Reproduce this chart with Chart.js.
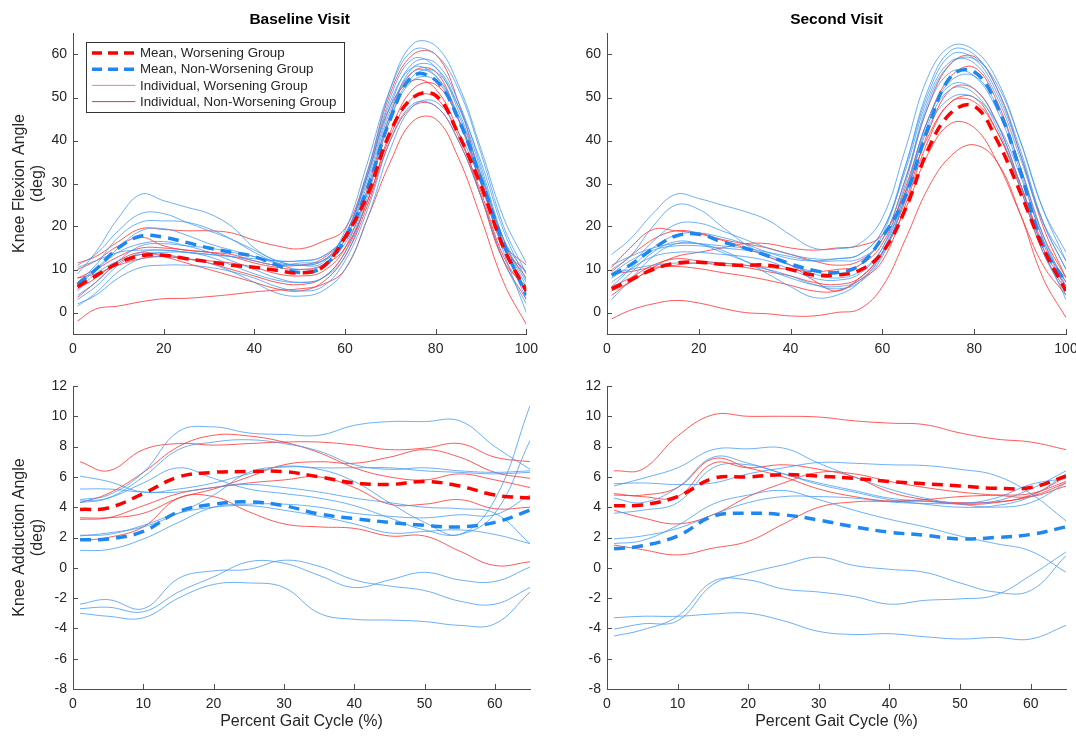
<!DOCTYPE html>
<html>
<head>
<meta charset="utf-8">
<script src="https://cdn.jsdelivr.net/npm/chart.js@4.4.1/dist/chart.umd.min.js"></script>
<style>
  body { margin: 0; background: #fff; width: 1076px; height: 737px; position: relative; overflow: hidden; }
  canvas { position: absolute; }
</style>
</head>
<body>
<canvas id="flexBase" width="545" height="364" style="left:0;top:0"></canvas>
<canvas id="flexSecond" width="540" height="364" style="left:555px;top:0"></canvas>
<canvas id="addBase" width="545" height="371" style="left:0;top:366px"></canvas>
<canvas id="addSecond" width="521" height="371" style="left:555px;top:366px"></canvas>
<script>
// x positions (percent gait cycle)
const flexX = [1, 5, 10, 15, 20, 25, 30, 35, 40, 45, 50, 55, 60, 65, 70, 75, 80, 85, 90, 95, 100];
const addX = [1, 5, 10, 15, 20, 25, 30, 35, 40, 45, 50, 55, 60, 65];

// tick labels
const flexXTicks = [0, 20, 40, 60, 80, 100];
const flexYTicks = [0, 10, 20, 30, 40, 50, 60];
const addXTicks = [0, 10, 20, 30, 40, 50, 60];
const addYTicks = [-8, -6, -4, -2, 0, 2, 4, 6, 8, 10, 12];

// legend
const legendLabels = ['Mean, Worsening Group', 'Mean, Non-Worsening Group', 'Individual, Worsening Group', 'Individual, Non-Worsening Group'];

// ---- knee flexion, baseline visit ----
const flexBaseMeanWorse = [6, 8.5, 11.5, 13.2, 13.3, 12.5, 11.8, 11, 10.5, 9.8, 9.2, 10.5, 17.5, 27.5, 42, 50, 50.5, 41.5, 29.5, 15, 5];
const flexBaseMeanNon = [6.5, 10, 15, 17.8, 17.5, 16.3, 15, 14, 13, 11, 9.3, 10.5, 17, 29, 45, 55, 54, 45, 31, 16, 4];
const flexBaseWorse = [
  [-2, 0.8, 1.5, 2.5, 3.2, 3.3, 3.7, 4.2, 4.8, 5.2, 5.5, 6.5, 10, 22, 35, 44.5, 45, 36, 22, 7, -2.8],
  [11.5, 13, 16.5, 19.5, 19.3, 19, 19, 18.5, 16.8, 15.5, 14.8, 16.5, 19.5, 33, 51, 60, 60, 49, 31, 15, 9.5],
  [10, 12, 15.5, 17.5, 15.5, 14.5, 14, 13, 11.5, 10.5, 10, 11, 15, 26, 42, 52, 53, 45, 31, 16, 8],
  [3.5, 7, 11.5, 13.5, 13.5, 12.5, 11.5, 10, 8.5, 7, 6.5, 8, 14, 26, 41, 50, 50, 41, 28, 13, 5],
  [8, 9, 11, 12.5, 13, 12.5, 12, 11.5, 10.5, 9, 8.5, 9.5, 15, 29, 46, 56, 56, 45, 30, 16, 11],
  [5.5, 8, 12, 14, 13, 11.5, 10, 8.5, 7, 5.5, 5, 7, 13, 25, 40, 48, 48, 40, 27, 12, 3],
  [8, 10, 13, 15, 15, 14.5, 14, 13.5, 12, 11, 11, 12.5, 18, 32, 48, 54, 52, 42, 27, 12, 6]
];
const flexBaseNon = [
  [9, 14, 22, 27.5, 26, 24.5, 23, 20, 15, 12, 11, 11.5, 19, 35, 52, 61, 60, 52, 37, 20, 9],
  [11, 13.5, 19, 23, 23, 21, 19, 17, 14.5, 12, 11, 12, 18, 33, 52, 62.5, 62, 53, 38, 22, 11.5],
  [7, 11, 17.5, 21, 21.3, 21, 19.5, 17, 14, 11.5, 10, 11, 17, 31, 48, 58, 58, 49, 34, 17, 6],
  [6, 10, 15, 19, 19.5, 18, 16, 14.5, 13, 11.5, 11, 12, 17, 30, 47, 56, 55, 46, 32, 17, 7],
  [4, 7, 12, 15.5, 16, 15.5, 15, 14, 13, 12, 12, 13, 18, 32, 49, 57, 55, 45, 30, 15, 5],
  [5, 9, 12, 13.5, 14, 14, 13.5, 13, 12, 11, 11.5, 12, 16, 28, 45, 54, 54, 45, 31, 16, 4],
  [2, 4, 8, 10.5, 11, 11, 10.5, 9.5, 8, 6, 5, 6, 12, 24, 40, 48.5, 48, 40, 27, 12, 2],
  [1.5, 4.5, 9.5, 12.5, 13, 12.5, 11.5, 9.5, 7, 4.5, 3.8, 5, 10, 22, 38, 48, 49, 42, 30, 14, 0],
  [7, 10, 14, 16, 16.5, 15.5, 14, 12, 10, 8, 7, 8, 14, 28, 46, 57, 57, 48, 33, 16, 3],
  [10.5, 12, 14, 14.5, 14.5, 14, 13.5, 13, 12.5, 12, 12, 13, 18, 32, 50, 59, 57, 47, 32, 17, 9],
  [3, 6, 11, 14, 14.5, 14, 13, 11, 9, 7.5, 7, 8, 13, 27, 45, 55, 56, 48, 35, 19, 7.5]
];

// ---- knee flexion, second visit ----
const flexSecondMeanWorse = [5.5, 7.5, 10, 11.5, 11.7, 11.2, 11, 11, 10, 8.7, 8.7, 9.8, 14, 24, 38, 46.5, 48, 40, 28, 15, 5];
const flexSecondMeanNon = [8.7, 11, 14.8, 17.8, 18.2, 16.5, 15, 13.2, 11.3, 9.8, 9.3, 11, 17.5, 27, 43, 55, 56, 48, 33, 15.5, 7];
const flexSecondWorse = [
  [-1.5, 0.5, 2, 2.8, 2.2, 1, 0, -0.3, -0.8, -0.8, 0, 0.8, 6, 17, 29, 36.5, 39, 35, 23, 8, -1.2],
  [4, 7, 10, 11, 11.5, 11, 10.5, 9.5, 8.5, 7, 6.5, 8, 14, 24, 37, 44, 43, 35, 23, 11, 4],
  [9.5, 13, 17, 19, 18.5, 17, 16, 15, 13.5, 12, 11, 12, 17, 31, 48, 58, 59.5, 52, 37, 20, 8],
  [5, 7, 10.5, 13, 14, 15, 16, 16, 15, 14.5, 15, 15.5, 18, 28, 41, 49, 50, 42, 30, 16, 7],
  [10.5, 15, 19.3, 19, 18.3, 16.8, 15, 13, 11, 7.5, 5, 8, 14, 26, 42, 52, 52, 44, 30, 15, 6],
  [9, 9.5, 10.5, 10.7, 10.2, 9.3, 8.5, 7.5, 6.3, 5, 5, 7.5, 12, 25, 40, 49, 49, 42, 29, 14, 5],
  [6, 8, 11, 12.5, 12, 11.5, 11, 10.5, 10, 9.5, 10, 11, 16, 29, 45, 55, 57, 49, 34, 18, 8]
];
const flexSecondNon = [
  [13.5, 17, 23, 27.5, 26.5, 25, 23.5, 21.5, 18, 15, 14.8, 16, 22, 38, 55, 62, 61, 54, 40, 24, 14],
  [10, 13, 20, 25, 24, 20, 16, 13, 11, 9.5, 9, 11, 18, 34, 52, 61, 60, 52, 38, 21, 10],
  [8, 11, 16.5, 20.5, 20.8, 19, 17, 15, 13.5, 12.5, 12.5, 13.5, 19, 34, 51, 60, 59, 51, 37, 21, 10],
  [6, 10, 15, 18, 18.5, 17.5, 16, 14, 12.5, 12, 12.5, 13.5, 19, 33, 50, 58.5, 58, 50, 36, 21, 12],
  [9, 12, 14.5, 15.5, 15.5, 15, 14.5, 13.5, 11, 9, 8, 9.5, 15, 28, 45, 54, 55, 48, 34, 18, 6],
  [3, 7.5, 13, 16, 16, 14.5, 12, 9, 6, 3.5, 4, 7, 14, 28, 45, 53, 52, 44, 30, 15, 3],
  [9, 10, 11, 11.5, 11.5, 11.5, 11, 10, 8.5, 6.5, 5.5, 7, 13, 27, 44, 52, 51, 43, 29, 14, 4],
  [5, 9, 14, 16.5, 16, 14, 12, 10, 8, 6.5, 6, 7.5, 13.5, 27, 43, 50, 50, 44, 32, 17, 5],
  [11, 13, 15, 16, 16, 15.5, 15, 14, 13, 12, 12, 12.5, 17, 31, 49, 58, 59, 53, 40, 24, 12],
  [7, 10, 13, 14, 14, 13.5, 13, 12, 10, 8, 7.5, 9, 15, 30, 48, 56, 55, 47, 33, 17, 7]
];

// ---- knee adduction, baseline visit ----
const addBaseMeanWorse = [3.85, 3.95, 4.9, 6.0, 6.3, 6.35, 6.35, 6.0, 5.6, 5.5, 5.7, 5.4, 4.8, 4.6];
const addBaseMeanNon = [1.85, 1.9, 2.4, 3.7, 4.2, 4.35, 4.1, 3.55, 3.25, 3.0, 2.8, 2.7, 3.0, 3.8];
const addBaseWorse = [
  [7, 6.4, 7.8, 8.2, 8.1, 8.2, 8.3, 8.3, 8.1, 7.8, 7.9, 8.2, 7.3, 7.0],
  [4.3, 4.9, 6.3, 8.0, 8.75, 8.7, 8.3, 7.6, 6.6, 6.0, 5.8, 6.2, 5.8, 5.3],
  [3.3, 3.3, 3.6, 4.6, 5.2, 6.0, 6.8, 7.0, 6.9, 7.3, 7.8, 7.3, 6.3, 5.9],
  [3.2, 3.3, 4.1, 4.9, 5.3, 5.6, 5.8, 6.0, 5.3, 4.2, 4.2, 4.5, 3.9, 4.0],
  [1.8, 2.0, 2.7, 4.6, 4.7, 3.7, 2.9, 2.7, 2.6, 2.1, 2.1, 1.1, 0.15, 0.4]
];
const addBaseNon = [
  [4.5, 4.8, 6.3, 9.0, 9.3, 8.9, 8.8, 8.75, 9.4, 9.65, 9.65, 9.7, 8.0, 6.5],
  [4.4, 4.6, 5.6, 6.6, 5.9, 5.2, 4.9, 4.6, 4.1, 3.3, 2.5, 2.2, 3.6, 8.4],
  [2.1, 2.3, 2.7, 3.6, 4.8, 6.3, 6.65, 6.5, 5.7, 4.3, 3.0, 2.2, 4.5, 10.7],
  [4.3, 4.6, 6.0, 7.8, 8.3, 8.45, 8.2, 7.7, 6.8, 6.5, 6.6, 6.4, 6.3, 6.4],
  [5.2, 5.2, 5.0, 5.0, 5.3, 5.5, 5.3, 5.0, 4.6, 4.3, 4.0, 3.9, 3.6, 1.6],
  [6.05, 5.7, 5.0, 5.2, 5.6, 6.2, 6.7, 6.6, 6.6, 6.6, 6.4, 6.3, 6.2, 6.3],
  [1.15, 1.2, 1.9, 3.0, 4.0, 4.2, 4.2, 4.0, 3.6, 3.4, 3.3, 3.5, 3.5, 4.8],
  [2.15, 2.2, 2.8, 3.6, 4.0, 4.1, 3.8, 3.4, 2.9, 2.3, 2.4, 2.5, 2.2, 1.6],
  [-2.4, -2.1, -2.7, -0.7, -0.2, -0.1, 0.5, 0.1, -0.8, -1.2, -1.5, -2.2, -2.4, -1.3],
  [-2.7, -2.6, -2.9, -1.6, -0.6, 0.4, 0.3, -0.5, -1.3, -0.8, -0.3, -0.8, -0.9, 0.05],
  [-3.0, -3.2, -3.3, -2.0, -1.1, -1.0, -1.3, -3.0, -3.4, -3.45, -3.55, -3.8, -3.7, -1.6]
];

// ---- knee adduction, second visit ----
const addSecondMeanWorse = [4.1, 4.15, 4.7, 5.9, 6.0, 6.15, 6.05, 5.9, 5.7, 5.55, 5.4, 5.25, 5.3, 6.05];
const addSecondMeanNon = [1.25, 1.45, 2.1, 3.4, 3.6, 3.5, 3.15, 2.7, 2.35, 2.15, 1.9, 2.0, 2.2, 2.7];
const addSecondWorse = [
  [6.4, 6.5, 8.7, 10.1, 10.0, 10.0, 9.95, 9.7, 9.55, 9.45, 8.9, 8.5, 8.3, 7.8],
  [4.8, 4.8, 5.3, 7.2, 6.6, 6.0, 5.2, 4.7, 4.4, 4.4, 4.3, 4.35, 4.7, 5.6],
  [3.8, 3.3, 2.9, 3.5, 4.7, 5.6, 6.3, 6.2, 5.7, 5.3, 5.0, 4.8, 4.7, 5.4],
  [1.5, 1.2, 0.85, 1.3, 1.75, 2.9, 4.0, 4.35, 4.4, 4.5, 4.7, 4.8, 4.9, 5.7],
  [4.9, 4.7, 4.7, 6.9, 6.6, 6.8, 6.5, 6.0, 5.0, 4.5, 4.2, 4.3, 4.8, 6.0]
];
const addSecondNon = [
  [5.4, 5.9, 6.6, 7.8, 7.85, 7.9, 6.9, 6.0, 5.2, 4.6, 4.2, 4.0, 4.3, 5.6],
  [5.55, 5.6, 5.5, 5.6, 6.2, 6.6, 6.95, 6.9, 6.8, 6.75, 6.5, 6.1, 4.9, 3.1],
  [4.6, 4.3, 5.3, 7.3, 6.9, 6.2, 5.6, 5.1, 4.6, 4.4, 4.25, 4.6, 5.5, 5.9],
  [3.6, 3.8, 4.3, 6.6, 6.8, 6.2, 5.5, 5.0, 4.5, 4.2, 4.0, 4.1, 4.7, 6.2],
  [1.9, 2.1, 2.6, 3.5, 4.3, 4.7, 4.7, 4.6, 4.35, 4.25, 4.25, 4.4, 5.2, 6.4],
  [1.6, 1.8, 2.8, 4.2, 4.8, 5.1, 4.5, 3.8, 3.2, 2.7, 2.1, 1.6, 1.1, -0.3],
  [-3.3, -3.2, -3.2, -3.05, -3.0, -3.5, -4.2, -4.4, -4.35, -4.55, -4.7, -4.6, -4.7, -3.8],
  [-4.05, -3.7, -3.5, -1.1, -0.35, 0.2, 0.7, 0.15, -0.1, -0.3, -1.0, -1.6, -1.5, 0.8],
  [-4.5, -4.1, -3.2, -0.9, -0.8, -1.4, -1.6, -1.9, -2.4, -2.15, -2.05, -1.8, -0.5, 1.05]
];

const FONT = "'Liberation Sans', Arial, Helvetica, sans-serif";
const AXIS = '#4d4d4d';
const TEXT = '#262626';
const RED = '#ff0000';
const BLUE = '#1e88f0';
const RED_THIN = 'rgba(255, 50, 50, 0.8)';
const BLUE_THIN = 'rgba(60, 150, 240, 0.75)';

const toPoints = (xs, ys) => xs.map((x, i) => ({ x, y: ys[i] }));

const line = (xs, ys, color, width, dash) => ({
  data: toPoints(xs, ys),
  borderColor: color,
  borderWidth: width,
  borderDash: dash || [],
  pointRadius: 0,
  tension: 0.4,
  fill: false
});

// MATLAB-like inward tick marks
const inwardTicks = {
  id: 'inwardTicks',
  afterDraw(chart) {
    const { ctx, chartArea, scales } = chart;
    ctx.save();
    ctx.strokeStyle = AXIS;
    ctx.lineWidth = 1;
    ctx.beginPath();
    scales.x.ticks.forEach(t => {
      const px = Math.round(scales.x.getPixelForValue(t.value)) + 0.5;
      ctx.moveTo(px, chartArea.bottom);
      ctx.lineTo(px, chartArea.bottom - 5);
    });
    scales.y.ticks.forEach(t => {
      const py = Math.round(scales.y.getPixelForValue(t.value)) + 0.5;
      ctx.moveTo(chartArea.left, py);
      ctx.lineTo(chartArea.left + 5, py);
    });
    ctx.stroke();
    ctx.restore();
  }
};

// boxed legend in the upper left of the baseline flexion panel
const boxLegend = {
  id: 'boxLegend',
  afterDraw(chart) {
    const { ctx, chartArea } = chart;
    const left = chartArea.left + 13, top = chartArea.top + 9;
    const styles = [
      { color: RED, width: 3.5, dash: [10, 6] },
      { color: BLUE, width: 3.5, dash: [10, 6] },
      { color: 'rgba(255, 90, 90, 0.8)', width: 1, dash: [] },
      { color: 'rgba(255, 20, 20, 0.9)', width: 1, dash: [] }
    ];
    ctx.save();
    ctx.fillStyle = '#fff';
    ctx.fillRect(left, top, 258, 70);
    ctx.strokeStyle = '#333';
    ctx.lineWidth = 1;
    ctx.strokeRect(left + 0.5, top + 0.5, 258, 70);
    ctx.font = '13.3px ' + FONT;
    ctx.textBaseline = 'middle';
    legendLabels.forEach((label, i) => {
      const y = top + 11 + i * 16.2;
      ctx.strokeStyle = styles[i].color;
      ctx.lineWidth = styles[i].width;
      ctx.setLineDash(styles[i].dash);
      ctx.beginPath();
      ctx.moveTo(left + 6, y);
      ctx.lineTo(left + 49, y);
      ctx.stroke();
      ctx.setLineDash([]);
      ctx.fillStyle = TEXT;
      ctx.fillText(label, left + 54, y + 0.5);
    });
    ctx.restore();
  }
};

function makePanel(id, cfg) {
  const datasets = [
    line(cfg.xs, cfg.meanWorse, RED, 3.5, [11, 7]),
    line(cfg.xs, cfg.meanNon, BLUE, 3.5, [11, 7]),
    ...cfg.non.map(s => line(cfg.xs, s, BLUE_THIN, 1)),
    ...cfg.worse.map(s => line(cfg.xs, s, RED_THIN, 1))
  ];
  const tickFont = { family: FONT, size: 14 };
  new Chart(document.getElementById(id), {
    type: 'line',
    data: { datasets },
    plugins: cfg.legend ? [inwardTicks, boxLegend] : [inwardTicks],
    options: {
      responsive: false,
      animation: false,
      devicePixelRatio: 1,
      events: [],
      layout: { padding: { top: cfg.padTop, right: cfg.padRight, left: 0, bottom: 0 } },
      plugins: {
        legend: { display: false },
        tooltip: { enabled: false },
        title: {
          display: !!cfg.title,
          text: cfg.title,
          fullSize: false,
          color: '#000',
          font: { family: FONT, size: 15.5, weight: 'bold' },
          padding: { top: 10, bottom: 4.4 }
        }
      },
      scales: {
        x: {
          type: 'linear',
          min: cfg.xMin,
          max: cfg.xMax,
          afterBuildTicks: s => { s.ticks = cfg.xTicks.map(v => ({ value: v })); },
          afterFit: s => { s.height = cfg.xHeight; },
          grid: { display: false, drawTicks: false },
          border: { display: true, color: AXIS, width: 1 },
          ticks: { color: TEXT, font: tickFont, padding: 7, maxRotation: 0, autoSkip: false },
          title: {
            display: !!cfg.xTitle,
            text: cfg.xTitle,
            color: TEXT,
            font: { family: FONT, size: 16 },
            padding: { top: 0, bottom: 6 }
          }
        },
        y: {
          type: 'linear',
          min: cfg.yMin,
          max: cfg.yMax,
          afterBuildTicks: s => { s.ticks = cfg.yTicks.map(v => ({ value: v })); },
          afterFit: s => { s.width = cfg.yWidth; },
          grid: { display: false, drawTicks: false },
          border: { display: true, color: AXIS, width: 1 },
          ticks: { color: TEXT, font: tickFont, padding: 6 },
          title: {
            display: !!cfg.yTitle,
            text: cfg.yTitle,
            color: TEXT,
            font: { family: FONT, size: 16, lineHeight: 1.15 },
            padding: { top: 10, bottom: 0 }
          }
        }
      }
    }
  });
}

makePanel('flexBase', {
  xs: flexX, meanWorse: flexBaseMeanWorse, meanNon: flexBaseMeanNon,
  worse: flexBaseWorse, non: flexBaseNon,
  xMin: 0, xMax: 100, yMin: -5, yMax: 65, xTicks: flexXTicks, yTicks: flexYTicks,
  title: 'Baseline Visit', yTitle: ['Knee Flexion Angle', '(deg)'],
  yWidth: 73, xHeight: 30, padTop: 0, padRight: 15, legend: true
});

makePanel('flexSecond', {
  xs: flexX, meanWorse: flexSecondMeanWorse, meanNon: flexSecondMeanNon,
  worse: flexSecondWorse, non: flexSecondNon,
  xMin: 0, xMax: 100, yMin: -5, yMax: 65, xTicks: flexXTicks, yTicks: flexYTicks,
  title: 'Second Visit',
  yWidth: 52, xHeight: 30, padTop: 0, padRight: 29
});

makePanel('addBase', {
  xs: addX, meanWorse: addBaseMeanWorse, meanNon: addBaseMeanNon,
  worse: addBaseWorse, non: addBaseNon,
  xMin: 0, xMax: 65, yMin: -8, yMax: 12, xTicks: addXTicks, yTicks: addYTicks,
  xTitle: 'Percent Gait Cycle (%)', yTitle: ['Knee Adduction Angle', '(deg)'],
  yWidth: 73, xHeight: 48, padTop: 20, padRight: 15
});

makePanel('addSecond', {
  xs: addX, meanWorse: addSecondMeanWorse, meanNon: addSecondMeanNon,
  worse: addSecondWorse, non: addSecondNon,
  xMin: 0, xMax: 65, yMin: -8, yMax: 12, xTicks: addXTicks, yTicks: addYTicks,
  xTitle: 'Percent Gait Cycle (%)',
  yWidth: 52, xHeight: 48, padTop: 20, padRight: 10
});
</script>
</body>
</html>
